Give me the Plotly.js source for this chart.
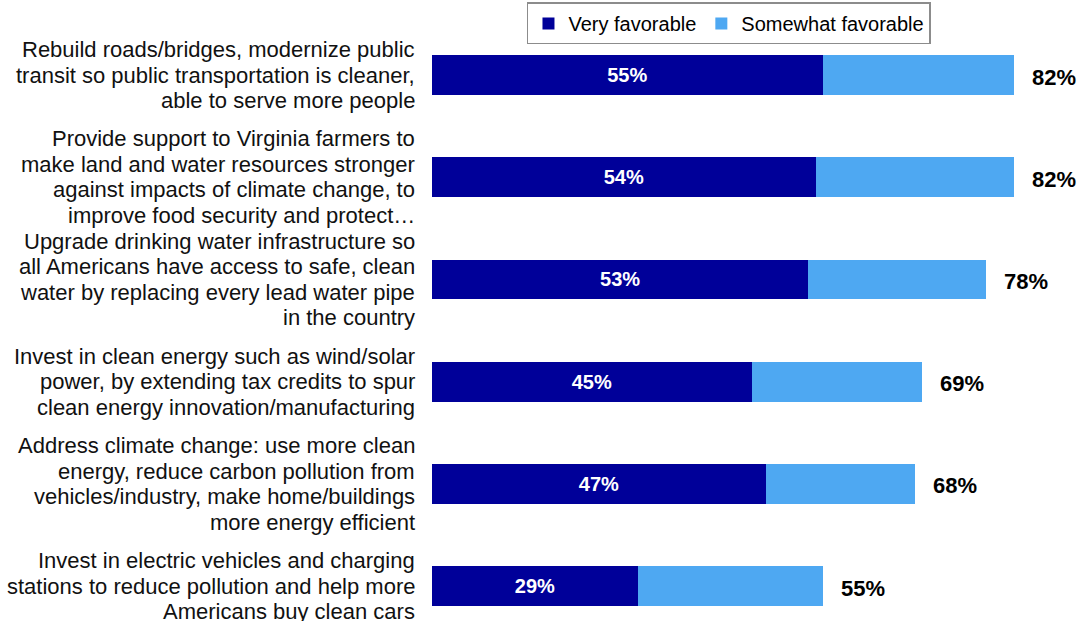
<!DOCTYPE html>
<html>
<head>
<meta charset="utf-8">
<script src="https://cdn.plot.ly/plotly-3.0.1.min.js"></script>
<style>
html,body{margin:0;padding:0;background:#fff;}
#chart{width:1079px;height:621px;}
</style>
</head>
<body>
<div id="chart"></div>
<script>
// ---- data ----
var categories = [
  "Rebuild roads/bridges, modernize public<br>transit so public transportation is cleaner,<br>able to serve more people",
  "Provide support to Virginia farmers to<br>make land and water resources stronger<br>against impacts of climate change, to<br>improve food security and protect…",
  "Upgrade drinking water infrastructure so<br>all Americans have access to safe, clean<br>water by replacing every lead water pipe<br>in the country",
  "Invest in clean energy such as wind/solar<br>power, by extending tax credits to spur<br>clean energy innovation/manufacturing",
  "Address climate change: use more clean<br>energy, reduce carbon pollution from<br>vehicles/industry, make home/buildings<br>more energy efficient",
  "Invest in electric vehicles and charging<br>stations to reduce pollution and help more<br>Americans buy clean cars"
];
var veryFavorable = [55, 54, 53, 45, 47, 29];
var somewhatFavorable = [27, 28, 25, 24, 21, 26];
var totalFavorable = [82, 82, 78, 69, 68, 55];
var seriesNames = ["Very favorable", "Somewhat favorable"];

// ---- styles ----
var DARK = "#000099";
var LIGHT = "#4ea8f2";
var FONT = "Liberation Sans, Arial, sans-serif";
var NARROW = "Liberation Sans Narrow, Arial Narrow, Liberation Sans, Arial, sans-serif";

var traces = [
  {
    type: "bar", orientation: "h", name: seriesNames[0],
    y: categories, x: veryFavorable,
    marker: {color: DARK},
    width: 0.39,
    text: veryFavorable.map(function(v){return v + "%";}),
    textposition: "inside", insidetextanchor: "middle",
    textfont: {family: NARROW, size: 20, color: "#ffffff", weight: "bold"},
    hoverinfo: "x+name"
  },
  {
    type: "bar", orientation: "h", name: seriesNames[1],
    y: categories, x: somewhatFavorable,
    marker: {color: LIGHT},
    width: 0.39,
    textposition: "none",
    hoverinfo: "x+name"
  }
];

var annotations = [];
// category labels (one annotation per line for tighter line spacing)
var LINE_GAP = 25.5;
categories.forEach(function(cat){
  var lines = cat.split("<br>");
  var n = lines.length;
  lines.forEach(function(line, j){
    annotations.push({
      xref: "paper", yref: "y", x: 0, y: cat,
      xanchor: "right", yanchor: "middle",
      xshift: -15, yshift: ((n - 1) / 2 - j) * LINE_GAP,
      text: line, showarrow: false, align: "right",
      font: {family: FONT, size: 22, color: "#111111"}
    });
  });
});
// total labels
categories.forEach(function(cat, i){
  annotations.push({
    xref: "x", yref: "y", x: totalFavorable[i], y: cat,
    xanchor: "left", yanchor: "middle", xshift: 16, yshift: -2,
    text: totalFavorable[i] + "%", showarrow: false,
    font: {family: FONT, size: 22, color: "#000000", weight: "bold"}
  });
});

var layout = {
  width: 1079, height: 621,
  margin: {l: 432, r: 0, t: 0, b: 0, pad: 0},
  paper_bgcolor: "#ffffff", plot_bgcolor: "#ffffff",
  barmode: "stack",
  showlegend: true,
  legend: {
    orientation: "h", x: 0.1468, xanchor: "left", y: 0.996, yanchor: "top",
    bordercolor: "#8c8c8c", borderwidth: 1.5, bgcolor: "#ffffff",
    font: {family: FONT, size: 20, color: "#000000"},
    traceorder: "normal"
  },
  xaxis: {
    range: [0, 91.1], showgrid: false, zeroline: false, showline: false,
    showticklabels: false, ticks: "", fixedrange: true
  },
  yaxis: {
    type: "category", range: [5.342, -0.734],
    showgrid: false, zeroline: false, showline: false,
    showticklabels: false, ticks: "", fixedrange: true
  },
  annotations: annotations,
  font: {family: FONT}
};

Plotly.newPlot("chart", traces, layout, {displayModeBar: false, staticPlot: true});
</script>
</body>
</html>
